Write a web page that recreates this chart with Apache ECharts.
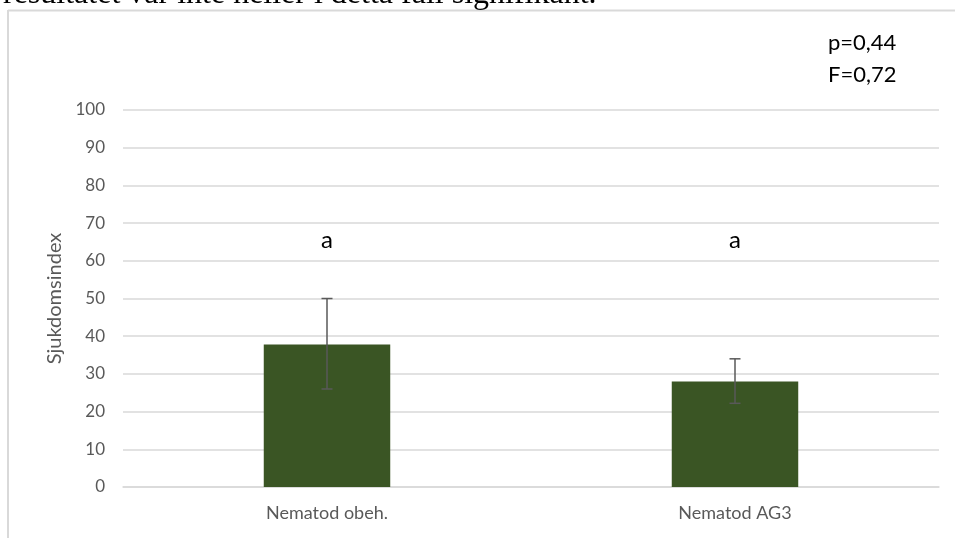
<!DOCTYPE html>
<html>
<head>
<meta charset="utf-8">
<style>html,body{margin:0;padding:0;background:#fff;}#c{width:955px;height:538px;}</style>
<script src="https://cdn.jsdelivr.net/npm/echarts@6/dist/echarts.min.js"></script>
</head>
<body>
<div id="c"></div>
<script>
const categories = ['Nematod obeh.', 'Nematod AG3'];
const means = [37.8, 28.0];
const errLower = [26.0, 22.2];
const errUpper = [50.0, 34.0];
const letters = ['a', 'a'];
const letterLevel = 65.5;
const yTicks = [0, 10, 20, 30, 40, 50, 60, 70, 80, 90, 100];
const statLines = ['p=0,44', 'F=0,72'];
const yName = 'Sjukdomsindex';
const topText = 'resultatet var inte heller i detta fall signifikant.';

const FONT = 'Lato';
const chart = echarts.init(document.getElementById('c'), null, {renderer: 'canvas'});
chart.setOption({
  animation: false,
  backgroundColor: '#fff',
  grid: {left: 123, right: 16, top: 110, bottom: 51},
  xAxis: {
    type: 'category',
    data: categories,
    axisLine: {show: true, lineStyle: {color: '#d9d9d9', width: 1.5}},
    axisTick: {show: false},
    axisLabel: {color: '#595959', fontFamily: FONT, fontSize: 18, margin: 17}
  },
  yAxis: {
    type: 'value',
    min: yTicks[0], max: yTicks[yTicks.length - 1], interval: yTicks[1] - yTicks[0],
    name: yName, nameLocation: 'middle', nameGap: 56,
    nameTextStyle: {color: '#595959', fontFamily: FONT, fontSize: 20},
    axisLine: {show: false}, axisTick: {show: false},
    axisLabel: {color: '#595959', fontFamily: FONT, fontSize: 17, margin: 18},
    splitLine: {lineStyle: {color: '#d9d9d9', width: 1.5}}
  },
  series: [
    {
      type: 'bar', data: means, barWidth: '31%',
      itemStyle: {color: '#3a5524'}
    },
    {
      type: 'custom',
      data: categories.map((c, i) => [i, errLower[i], errUpper[i], letters[i]]),
      z: 10,
      renderItem: function (params, api) {
        const i = api.value(0);
        const lo = api.coord([i, api.value(1)]);
        const hi = api.coord([i, api.value(2)]);
        const lt = api.coord([i, letterLevel]);
        const half = 5.5;
        const st = {stroke: '#595959', lineWidth: 1.5};
        return {
          type: 'group',
          children: [
            {type: 'line', shape: {x1: lo[0], y1: lo[1], x2: hi[0], y2: hi[1]}, style: st},
            {type: 'line', shape: {x1: lo[0] - half, y1: lo[1], x2: lo[0] + half, y2: lo[1]}, style: st},
            {type: 'line', shape: {x1: hi[0] - half, y1: hi[1], x2: hi[0] + half, y2: hi[1]}, style: st},
            {type: 'text', x: lt[0], y: lt[1], style: {text: letters[i], fill: '#000', font: '24px ' + FONT, textAlign: 'center', textVerticalAlign: 'middle'}}
          ]
        };
      }
    }
  ],
  graphic: [
    {type: 'line', shape: {x1: 8, y1: 10.5, x2: 955, y2: 10.5}, style: {stroke: '#d9d9d9', lineWidth: 2}},
    {type: 'line', shape: {x1: 8, y1: 10, x2: 8, y2: 538}, style: {stroke: '#d9d9d9', lineWidth: 2}},
    {type: 'text', x: 3, y: 11, style: {text: topText, fill: '#000', font: '32px "Liberation Serif"', textVerticalAlign: 'bottom'}},
    {type: 'text', x: 828, y: 43, style: {text: statLines[0], fill: '#000', font: '22px ' + FONT, textVerticalAlign: 'middle'}},
    {type: 'text', x: 828, y: 75, style: {text: statLines[1], fill: '#000', font: '22px ' + FONT, textVerticalAlign: 'middle'}}
  ]
});
</script>
</body>
</html>
